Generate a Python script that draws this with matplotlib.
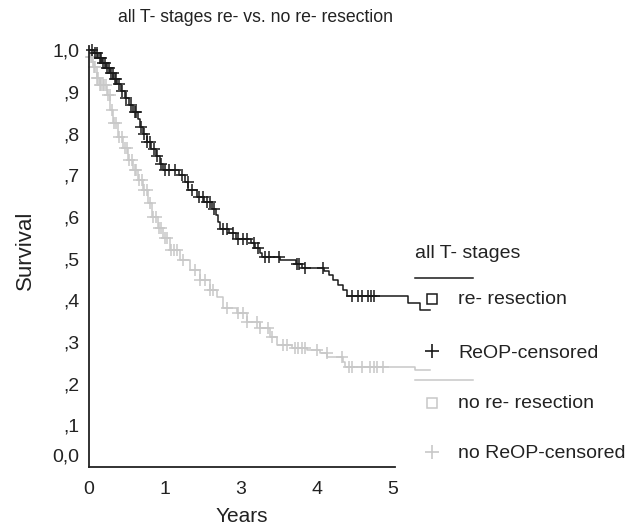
import numpy as np
import matplotlib.pyplot as plt
from matplotlib.lines import Line2D
from matplotlib.transforms import ScaledTranslation

plt.rcParams['font.family'] = ['Liberation Sans', 'DejaVu Sans']

# re- resection: Kaplan-Meier steps (time, survival after step)
reop_t = [0.00, 0.06, 0.12, 0.17, 0.22, 0.27, 0.32, 0.37, 0.42, 0.47, 0.53, 0.58,
          0.64, 0.67, 0.71, 0.76, 0.82, 0.88, 0.93, 0.98, 1.18, 1.27, 1.31, 1.42,
          1.52, 1.62, 1.67, 1.70, 1.72, 1.85, 1.93, 2.14, 2.19, 2.25, 2.28, 2.52,
          2.72, 2.80, 3.10, 3.16, 3.22, 3.28, 3.34, 3.40, 4.20, 4.36, 4.49]
reop_s = [1.000, 0.994, 0.982, 0.970, 0.958, 0.946, 0.932, 0.918, 0.903, 0.886, 0.868, 0.852,
          0.836, 0.816, 0.798, 0.780, 0.764, 0.746, 0.728, 0.712, 0.700, 0.684, 0.664, 0.648,
          0.636, 0.620, 0.604, 0.588, 0.572, 0.562, 0.546, 0.538, 0.526, 0.514, 0.504, 0.496,
          0.486, 0.478, 0.470, 0.460, 0.448, 0.436, 0.424, 0.410, 0.394, 0.376, 0.376]
reop_cens = [0.04, 0.08, 0.10, 0.14, 0.16, 0.19, 0.21, 0.24, 0.26, 0.29, 0.31, 0.34, 0.36,
             0.40, 0.44, 0.49, 0.55, 0.60, 0.62, 0.69, 0.73, 0.77, 0.80, 0.85, 0.90,
             0.95, 1.00, 1.05, 1.13, 1.22, 1.30, 1.36, 1.45, 1.50, 1.56, 1.60, 1.65,
             1.76, 1.82, 1.90, 1.96, 2.03, 2.08, 2.17, 2.22, 2.32, 2.37, 2.50, 2.74,
             2.76, 2.84, 3.08, 3.47, 3.54, 3.60, 3.67, 3.72, 3.76]

# no re- resection
noreop_t = [0.00, 0.01, 0.05, 0.10, 0.14, 0.24, 0.28, 0.32, 0.38, 0.45, 0.51, 0.58,
            0.64, 0.71, 0.78, 0.83, 0.91, 0.97, 1.07, 1.20, 1.33, 1.46, 1.59, 1.68,
            1.76, 1.95, 2.08, 2.25, 2.38, 2.47, 2.68, 2.87, 3.04, 3.14, 3.34, 3.37,
            4.29, 4.49]
noreop_s = [1.000, 0.983, 0.959, 0.933, 0.916, 0.892, 0.856, 0.825, 0.791, 0.765, 0.736, 0.712,
            0.688, 0.664, 0.633, 0.600, 0.573, 0.549, 0.520, 0.496, 0.472, 0.448, 0.424, 0.408,
            0.381, 0.369, 0.348, 0.333, 0.312, 0.293, 0.285, 0.281, 0.273, 0.264, 0.252, 0.240,
            0.233, 0.233]
noreop_cens = [0.02, 0.04, 0.06, 0.08, 0.10, 0.12, 0.14, 0.16, 0.18, 0.20, 0.22, 0.25,
               0.27, 0.30, 0.33, 0.36, 0.40, 0.43, 0.47, 0.50, 0.53, 0.56, 0.60, 0.62,
               0.66, 0.70, 0.73, 0.76, 0.80, 0.84, 0.88, 0.92, 0.95, 1.00, 1.03, 1.08,
               1.12, 1.16, 1.24, 1.39, 1.46, 1.53, 1.59, 1.63, 1.82, 1.96, 2.03, 2.08,
               2.21, 2.25, 2.36, 2.41, 2.55, 2.61, 2.71, 2.75, 2.80, 2.84, 3.00, 3.13,
               3.33, 3.43, 3.47, 3.60, 3.70, 3.76, 3.79, 3.87]

xtick_labels = ['0', '1', '3', '4', '5']
ytick_vals = [0.0, 0.1, 0.2, 0.3, 0.4, 0.5, 0.6, 0.7, 0.8, 0.9, 1.0]
ytick_labels = ['0,0', ',1', ',2', ',3', ',4', ',5', ',6', ',7', ',8', ',9', '1,0']

BLACK = '#1a1a1a'
GRAY = '#c8c8c8'


def surv_at(times, surv, t):
    idx = np.searchsorted(times, t, side='right') - 1
    return np.asarray(surv)[idx]


fig = plt.figure(figsize=(6.43, 5.29), dpi=100)
ax = fig.add_axes([89 / 643, 62 / 529, 306 / 643, 421 / 529])

for t, s, c, col in [(noreop_t, noreop_s, noreop_cens, GRAY),
                     (reop_t, reop_s, reop_cens, BLACK)]:
    ax.step(t, s, where='post', color=col, lw=1.1, clip_on=False)
    ax.plot(c, surv_at(t, s, c), ls='none', marker='+', ms=9, mew=1.1,
            color=col, clip_on=False)

ax.set_xlim(0, 4.03)
ax.set_ylim(0, 1.01)
ax.set_xticks(range(len(xtick_labels)))
ax.set_xticklabels(xtick_labels)
ax.set_yticks(ytick_vals)
ax.set_yticklabels(ytick_labels)
ax.tick_params(length=0, labelsize=14, colors='#222222', pad=7)
ax.tick_params(axis='x', pad=10)
lab0 = ax.get_yticklabels()[0]
lab0.set_transform(lab0.get_transform() + ScaledTranslation(0, 9 / 72, fig.dpi_scale_trans))

for side in ['top', 'right']:
    ax.spines[side].set_visible(False)
for side in ['left', 'bottom']:
    ax.spines[side].set_linewidth(1.3)
    ax.spines[side].set_color('#222222')

fig.text(255 / 643, 1 - 18 / 529, 'all T- stages re- vs. no re- resection',
         ha='center', va='center', fontsize=12.7, color='#222222')
fig.text(25 / 643, 1 - 250 / 529, 'Survival', rotation=90, ha='center', va='center',
         fontsize=16, color='#222222')
fig.text(242 / 643, 1 - 516 / 529, 'Years', ha='center', va='center',
         fontsize=15, color='#222222')

# legend
def fx(px):
    return px / 643


def fy(py):
    return 1 - py / 529


fig.text(fx(415), fy(253), 'all T- stages', ha='left', va='center', fontsize=14, color='#222222')
fig.add_artist(Line2D([fx(415), fx(473)], [fy(278), fy(278)], color=BLACK, lw=1.1))
fig.add_artist(Line2D([fx(415), fx(473)], [fy(380), fy(380)], color=GRAY, lw=1.1))
entries = [('re- resection', 's', BLACK, 300),
           ('ReOP-censored', '+', BLACK, 353),
           ('no re- resection', 's', GRAY, 404),
           ('no ReOP-censored', '+', GRAY, 454)]
for label, mk, col, py in entries:
    if mk == 's':
        fig.add_artist(Line2D([fx(432)], [fy(py - 1)], ls='none', marker='s', ms=6.5,
                              mfc='white', mec=col, mew=1.1))
    else:
        fig.add_artist(Line2D([fx(432)], [fy(py - 2)], ls='none', marker='+', ms=10,
                              mew=1.2, color=col))
    fig.text(fx(458), fy(py), label, ha='left', va='center', fontsize=14, color='#222222')

fig.savefig('out.png', dpi=100)
